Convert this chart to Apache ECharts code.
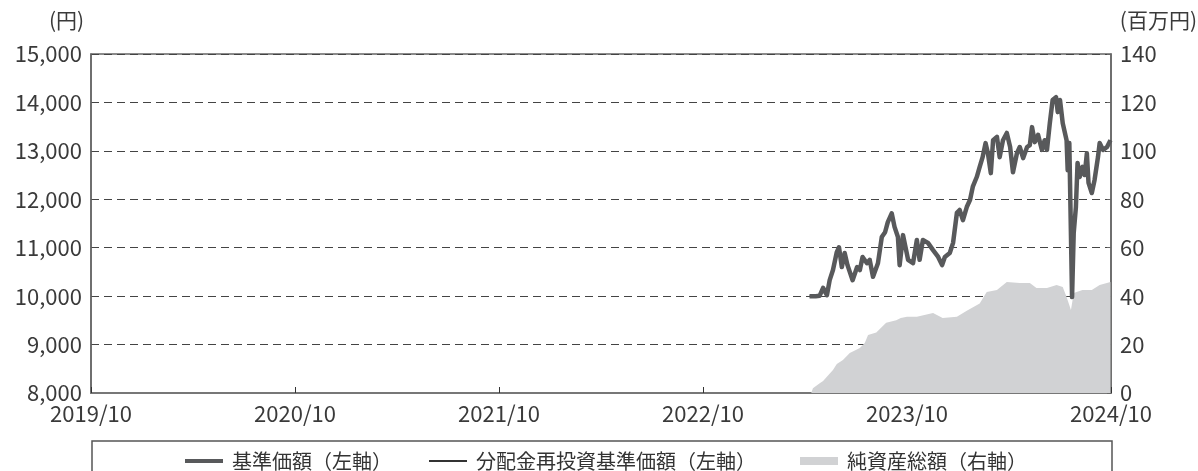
<!DOCTYPE html>
<html>
<head>
<meta charset="utf-8">
<script src="https://cdn.jsdelivr.net/npm/echarts@6/dist/echarts.min.js"></script>
<style>
html,body{margin:0;padding:0;background:#fff;}
#chart{width:1198px;height:471px;}
</style>
</head>
<body>
<div id="chart"></div>
<script>
// ---- data ----
const seriesNames = ['基準価額（左軸）', '分配金再投資基準価額（左軸）', '純資産総額（右軸）'];
const xTickLabels = ['2019/10', '2020/10', '2021/10', '2022/10', '2023/10', '2024/10'];
const leftTicks = [8000, 9000, 10000, 11000, 12000, 13000, 14000, 15000];
const rightTicks = [0, 20, 40, 60, 80, 100, 120, 140];

const navDates = [
 '2023/04/09','2023/04/20','2023/04/27','2023/05/03','2023/05/10','2023/05/15','2023/05/21','2023/05/28',
 '2023/06/01','2023/06/06','2023/06/11','2023/06/16','2023/06/25','2023/07/03','2023/07/08','2023/07/13',
 '2023/07/21','2023/07/26','2023/08/01','2023/08/10','2023/08/17','2023/08/23','2023/08/28','2023/09/04',
 '2023/09/09','2023/09/15','2023/09/18','2023/09/24','2023/09/27','2023/10/03','2023/10/12','2023/10/19',
 '2023/10/24','2023/10/30','2023/11/08','2023/11/17','2023/11/26','2023/12/03','2023/12/08','2023/12/17',
 '2023/12/23','2023/12/30','2024/01/04','2024/01/10','2024/01/17','2024/01/23','2024/01/28','2024/02/04',
 '2024/02/09','2024/02/14','2024/02/19','2024/02/23','2024/02/28','2024/03/03','2024/03/10','2024/03/15',
 '2024/03/21','2024/03/28','2024/04/03','2024/04/08','2024/04/15','2024/04/20','2024/04/26','2024/05/03',
 '2024/05/08','2024/05/12','2024/05/17','2024/05/23','2024/05/30','2024/06/04','2024/06/08','2024/06/13',
 '2024/06/18','2024/06/24','2024/06/27','2024/07/01','2024/07/06','2024/07/13','2024/07/15','2024/07/18',
 '2024/07/23','2024/07/26','2024/07/30','2024/08/02','2024/08/06','2024/08/11','2024/08/15','2024/08/19',
 '2024/08/22','2024/08/28','2024/09/02','2024/09/08','2024/09/11','2024/09/17','2024/09/24','2024/09/30'
];
const navValues = [
 10000,10000,10010,10170,10020,10330,10540,10910,
 11010,10600,10890,10640,10330,10600,10540,10810,
 10680,10750,10400,10680,11220,11320,11530,11710,
 11430,11220,10640,11260,11300,10750,10680,11160,
 10750,11160,11100,10950,10810,10640,10810,10890,
 11100,11720,11780,11570,11840,11990,12260,12460,
 12670,12870,13160,12950,12540,13220,13290,12870,
 13220,13370,13080,12560,12950,13080,12850,13080,
 13120,13490,13180,13330,13020,13220,13020,13570,
 14050,14110,13800,14050,13570,13220,12600,13160,
 9980,11300,11840,12750,12460,12670,12500,12950,
 12340,12130,12400,12870,13160,13020,13080,13220
];
// reinvested NAV equals NAV (no distributions)
const reinvValues = navValues.slice();

const assetDates = [
 '2023/04/12','2023/04/15','2023/04/27','2023/05/03','2023/05/21','2023/05/28','2023/06/08','2023/06/20',
 '2023/07/08','2023/07/17','2023/07/23','2023/08/07','2023/08/25','2023/09/12','2023/09/20','2023/10/01',
 '2023/10/19','2023/11/17','2023/12/04','2023/12/30','2024/01/17','2024/02/09','2024/02/21','2024/03/10',
 '2024/03/28','2024/04/20','2024/05/08','2024/05/20','2024/06/08','2024/06/25','2024/07/06','2024/07/13',
 '2024/07/21','2024/07/26','2024/08/11','2024/08/28','2024/09/11','2024/09/30'
];
const assetValues = [
 0,2,4,5,9.5,12,13.6,16.5,
 18.6,20.6,24,25,29,30,31,31.5,
 31.5,33,31,31.5,34,37,41.7,42.5,
 45.8,45.4,45.4,43.4,43.4,44.6,43.8,39.6,
 34.3,41.3,42.5,42.5,44.6,45.8
];

// months since 2019/10/01
function toM(s) {
  const p = s.split('/').map(Number);
  const dim = new Date(p[0], p[1], 0).getDate();
  return (p[0] - 2019) * 12 + (p[1] - 10) + (p[2] - 1) / dim;
}
const pair = (ds, vs) => ds.map((d, i) => [toM(d), vs[i]]);

const FONT = '"Noto Sans CJK JP", "Noto Sans", sans-serif';
const chart = echarts.init(document.getElementById('chart'), null, {renderer: 'canvas'});

const legendBase = {
  orient: 'horizontal', top: 446, itemGap: 0,
  textStyle: {fontSize: 20, color: '#333', fontFamily: FONT, padding: [0, 0, 0, 4]},
  icon: 'rect', itemWidth: 38
};

chart.setOption({
  backgroundColor: '#fff',
  animation: false,
  textStyle: {fontFamily: FONT},
  grid: {left: 91, right: 87, top: 54, bottom: 78, show: true, borderColor: '#666', borderWidth: 1.5, backgroundColor: 'transparent'},
  legend: [
    Object.assign({}, legendBase, {left: 180, data: [seriesNames[0]], itemHeight: 4}),
    Object.assign({}, legendBase, {left: 424, data: [seriesNames[1]], itemHeight: 2}),
    Object.assign({}, legendBase, {left: 795, data: [seriesNames[2]], itemHeight: 8})
  ],
  xAxis: {
    type: 'value', min: 0, max: 60, interval: 12,
    axisLine: {show: true, lineStyle: {color: '#777', width: 2}},
    axisTick: {show: true, inside: true, length: 6, lineStyle: {color: '#333', width: 1}},
    splitLine: {show: false},
    axisLabel: {
      fontSize: 22, color: '#3a3a3a', fontFamily: FONT, margin: 10, showMinLabel: true, showMaxLabel: true,
      formatter: v => xTickLabels[Math.round(v / 12)]
    }
  },
  yAxis: [
    {
      type: 'value', min: leftTicks[0], max: leftTicks[leftTicks.length - 1], interval: 1000,
      axisLine: {show: true, lineStyle: {color: '#666', width: 1.5}},
      axisTick: {show: false},
      splitLine: {show: true, lineStyle: {color: '#444', width: 1.2, type: [8, 5]}},
      axisLabel: {fontSize: 22, color: '#3a3a3a', fontFamily: FONT, margin: 9,
        formatter: v => v.toLocaleString('en-US')}
    },
    {
      type: 'value', min: rightTicks[0], max: rightTicks[rightTicks.length - 1], interval: 20,
      axisLine: {show: true, lineStyle: {color: '#666', width: 1.5}},
      axisTick: {show: true, inside: true, length: 4, lineStyle: {color: '#666'}},
      splitLine: {show: false},
      axisLabel: {fontSize: 22, color: '#3a3a3a', fontFamily: FONT, margin: 9}
    }
  ],
  graphic: [
    {type: 'text', left: 49, top: 10, style: {text: '(円)', fontSize: 21, fill: '#3a3a3a', fontFamily: FONT}},
    {type: 'text', right: 1, top: 10, style: {text: '(百万円)', fontSize: 21, fill: '#3a3a3a', fontFamily: FONT}},
    {type: 'rect', shape: {x: 92, y: 441, width: 1020, height: 60}, style: {fill: 'none', stroke: '#555', lineWidth: 1.5}, silent: true}
  ],
  series: [
    {
      name: seriesNames[2], type: 'line', yAxisIndex: 1, symbol: 'none',
      data: pair(assetDates, assetValues),
      color: '#d1d2d4',
      lineStyle: {width: 0, color: '#d1d2d4'},
      areaStyle: {color: '#d1d2d4', opacity: 1},
      z: 1
    },
    {
      name: seriesNames[1], type: 'line', yAxisIndex: 0, symbol: 'none',
      data: pair(navDates, reinvValues),
      color: '#333',
      lineStyle: {width: 2, color: '#333'},
      z: 2
    },
    {
      name: seriesNames[0], type: 'line', yAxisIndex: 0, symbol: 'none',
      data: pair(navDates, navValues),
      color: '#58595b',
      lineStyle: {width: 4.5, color: '#58595b', join: 'round'},
      z: 3
    }
  ]
});
</script>
</body>
</html>
